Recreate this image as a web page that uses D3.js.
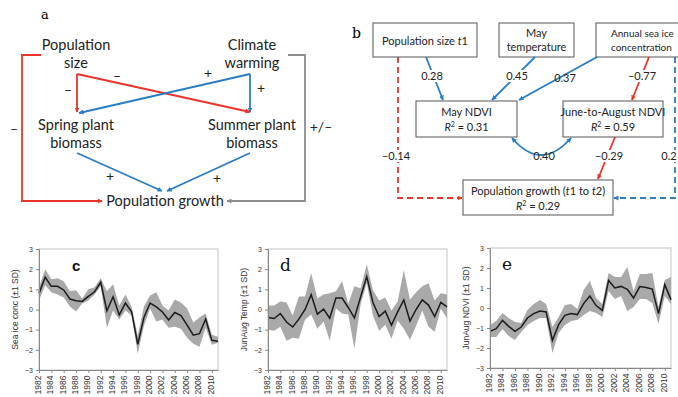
<!DOCTYPE html>
<meta charset="utf-8">
<head>
    <title>Population growth, climate and plants</title>
</head>
<style>
 body { margin: 0; background: #fff; }
 svg { display: block; }
 .diag { font-family: Lato, "Open Sans", sans-serif; fill: #222; }
 .axis text { font-family: "Liberation Sans", Arial, sans-serif; fill: #333; }
 .axis path, .axis line { stroke: #888; }
</style>
<body>
<div id="fig"></div>
<script src="https://d3js.org/d3.v7.min.js"></script>
<script>

 // ---- time series ----
 var years = d3.range(1982, 2012);

 var seaIce      = [0.8, 1.6, 1.15, 1.15, 0.97, 0.52, 0.43, 0.4, 0.65, 0.88, 1.35, -0.07, 0.63, -0.27, 0.32,
                    -0.12, -1.73, -0.4, 0.32, 0.13, -0.12, -0.52, -0.15, -0.3, -0.77, -1.27, -1.2, -0.47, -1.53, -1.57];
 var seaIceHi    = [1.1, 2.0, 1.5, 1.55, 1.4, 0.9, 0.95, 0.55, 1.0, 1.1, 1.55, 0.9, 1.25, 0.2, 0.75,
                    0.15, -1.3, 0.15, 0.7, 0.85, 0.2, -0.05, 0.5, 0.35, 0.05, -0.65, -0.4, -0.2, -1.25, -1.35];
 var seaIceLo    = [0.45, 1.2, 0.85, 0.75, 0.6, 0.15, -0.1, 0.3, 0.45, 0.75, 1.15, -0.9, -0.05, -0.5, -0.05,
                    -0.3, -2.2, -0.8, 0.05, -0.6, -0.5, -0.9, -0.85, -0.95, -1.4, -1.7, -1.85, -0.9, -1.75, -1.65];

 var junAugTemp   = [-0.4, -0.45, -0.2, -0.62, -0.87, -0.48, 0.0, 0.73, -0.23, 0.02, -0.43, 0.57, 0.57, 0.1, -0.42,
                     0.62, 1.63, 0.35, -0.35, -0.08, -0.78, -0.12, 0.47, -0.57, 0.0, 0.48, 0.22, -0.35, 0.35, 0.13];
 var junAugTempHi = [0.2, 0.2, 0.4, 0.35, -0.3, 0.65, 0.65, 1.8, 0.55, 0.75, 0.8, 0.9, 1.4, 0.3, 1.15,
                     1.05, 2.25, 0.95, 0.45, 0.6, -0.05, 0.4, 1.95, 0.5, 0.85, 1.15, 1.3, 0.45, 0.8, 0.75];
 var junAugTempLo = [-1.0, -1.05, -0.85, -1.55, -1.4, -1.45, -0.5, -0.25, -0.95, -0.6, -1.55, 0.05, -0.2, -0.25, -1.95,
                     0.25, 1.3, -0.3, -1.05, -0.75, -1.45, -0.55, -0.95, -1.5, -0.8, -0.05, -0.85, -1.1, 0.05, -0.45];

 var junAugNdvi   = [-1.17, -1.03, -0.62, -0.92, -1.17, -0.95, -0.5, -0.28, -0.15, -0.2, -1.62, -0.83, -0.37, -0.28, -0.33,
                     0.22, 0.6, 0.12, -0.12, 1.38, 1.0, 1.08, 0.93, 0.5, 1.07, 1.03, 0.95, -0.28, 1.17, 0.42];
 var junAugNdviHi = [-0.85, -0.65, -0.25, -0.5, -0.7, -0.75, -0.1, 0.2, 0.4, 0.2, -0.95, -0.45, 0.15, 0.2, -0.05,
                     0.9, 1.35, 0.5, 0.2, 1.75, 1.55, 1.55, 2.05, 0.85, 1.7, 1.7, 1.75, 0.05, 1.4, 1.55];
 var junAugNdviLo = [-1.45, -1.45, -1.05, -1.4, -1.6, -1.2, -0.85, -0.65, -0.5, -0.5, -2.25, -1.25, -0.85, -0.65, -0.6,
                     -0.35, -0.15, -0.25, -0.45, 0.85, 0.45, 0.6, -0.15, 0.05, 0.45, 0.45, 0.25, -0.8, 0.6, 0.2];

 var yTicks = [-3, -2, -1, 0, 1, 2, 3];
 var yearTicks = d3.range(1982, 2011, 2);

 // ---- diagram text and path coefficients ----
 var conceptNodes = [["Population", "size"], ["Climate", "warming"],
                     ["Spring plant", "biomass"], ["Summer plant", "biomass"], ["Population growth"]];
 var conceptSigns = ["\u2013", "\u2013", "+", "+", "+", "+", "\u2013", "+/\u2013"];
 var pathCoefs = ["0.28", "0.45", "0.37", "\u20130.77", "0.40", "\u20130.29", "\u20130.14", "0.2"];
 var r2 = ["0.31", "0.59", "0.29"];

 var W = 678, H = 397;
 var blue = "#2a7cc3", red = "#e8342a", grey = "#8d8d8d";

 var svg = d3.select("#fig").append("svg")
             .attr("width", W)
             .attr("height", H);

 var defs = svg.append("defs");
 [["blue", blue], ["red", red], ["grey", grey]].forEach(function (m) {
     defs.append("marker")
         .attr("id", "arr-" + m[0])
         .attr("viewBox", "0 0 10 10")
         .attr("refX", 9).attr("refY", 5)
         .attr("markerWidth", 5).attr("markerHeight", 5)
         .attr("markerUnits", "userSpaceOnUse")
         .attr("orient", "auto-start-reverse")
         .append("path")
         .attr("d", "M0,0 L10,5 L0,10 z")
         .attr("fill", m[1]);
 });

 function line(pts, color, mk, dash, sw) {
     var p = svg.append("path")
                .attr("d", d3.line()(pts))
                .attr("fill", "none")
                .attr("stroke", color)
                .attr("stroke-width", sw || 1.8);
     if (mk) p.attr("marker-end", "url(#arr-" + mk + ")");
     if (dash) p.attr("stroke-dasharray", dash);
     return p;
 }

 function txt(x, y, s, size, anchor, cls) {
     return svg.append("text")
               .attr("class", cls || "diag")
               .attr("x", x).attr("y", y)
               .attr("font-size", size)
               .attr("text-anchor", anchor || "middle")
               .text(s);
 }

 // ================= panel a =================
 svg.append("text").attr("x", 41).attr("y", 19)
    .attr("font-family", "DejaVu Serif, serif").attr("font-size", 13).text("a");

 var aCx = [76, 252, 76, 252, 165];
 var aCy = [50, 50, 130, 130, 206];
 conceptNodes.forEach(function (lines, i) {
     lines.forEach(function (s, j) {
         txt(aCx[i], aCy[i] + j * 18, s, 14.5);
     });
 });

 line([[77, 74], [77, 112]], red, "red");
 line([[77, 74], [250, 112]], red, "red");
 line([[250, 74], [250, 112]], blue, "blue");
 line([[250, 74], [79, 113]], blue, "blue");
 line([[77, 153], [162, 191]], blue, "blue");
 line([[250, 153], [167, 191]], blue, "blue");
 line([[41, 55], [22, 55], [22, 201], [102, 201]], red, "red");
 line([[288, 55], [305, 55], [305, 201], [227, 201]], grey, "grey");

 var signPos = [[68, 95], [117, 81], [208, 78], [261, 93], [110, 181], [217, 183], [14, 134], [321, 132]];
 conceptSigns.forEach(function (s, i) {
     txt(signPos[i][0], signPos[i][1], s, 14);
 });

 // ================= panel b =================
 svg.append("text").attr("x", 352).attr("y", 38)
    .attr("font-family", "DejaVu Serif, serif").attr("font-size", 14).text("b");

 function box(x0, y0, x1, y1) {
     svg.append("rect").attr("x", x0).attr("y", y0)
        .attr("width", x1 - x0).attr("height", y1 - y0)
        .attr("fill", "#fff").attr("stroke", "#555").attr("stroke-width", 1);
 }
 function r2Line(x, y, v) {
     var t = txt(x, y, "", 11);
     t.append("tspan").attr("font-style", "italic").text("R");
     t.append("tspan").attr("dy", -4).attr("font-size", 7).text("2");
     t.append("tspan").attr("dy", 4).text(" = " + v);
 }

 // dashed direct paths (behind boxes)
 line([[398, 57], [398, 198], [462, 198]], red, "red", "6,4");
 line([[675, 57], [675, 198], [614, 198]], blue, "blue", "6,4");

 box(373, 23, 477, 57);
 var t1 = txt(425, 45, "Population size ", 11);
 t1.append("tspan").attr("font-style", "italic").text("t");
 t1.append("tspan").text("1");

 box(499, 23, 574, 57);
 txt(536.5, 37, "May", 11);
 txt(536.5, 51, "temperature", 11);

 // this box runs off the right edge in the source; keep its text inside the page
 box(596, 23, 730, 57);
 txt(611, 37, "Annual sea ice", 10, "start");
 txt(611, 51, "concentration", 10, "start");

 box(416, 101, 517, 137);
 txt(466.5, 116, "May NDVI", 11);
 r2Line(466.5, 131, r2[0]);

 box(563, 101, 663, 137);
 txt(613, 116, "June-to-August NDVI", 11);
 r2Line(613, 131, r2[1]);

 box(463, 180, 613, 215);
 var pg = txt(538, 195, "Population growth (", 11);
 pg.append("tspan").attr("font-style", "italic").text("t");
 pg.append("tspan").text("1 to ");
 pg.append("tspan").attr("font-style", "italic").text("t");
 pg.append("tspan").text("2)");
 r2Line(538, 210, r2[2]);

 line([[426, 57], [443, 100]], blue, "blue");
 line([[535, 57], [492, 100]], blue, "blue");
 line([[597, 57], [519, 100]], blue, "blue");
 line([[649, 57], [632, 100]], red, "red");
 line([[615, 137], [598, 179]], red, "red");
 svg.append("path")
    .attr("d", "M512,138 Q541,172 571,138")
    .attr("fill", "none").attr("stroke", blue).attr("stroke-width", 1.8)
    .attr("marker-start", "url(#arr-blue)")
    .attr("marker-end", "url(#arr-blue)");

 var coefPos = [[432, 80], [517, 80], [565, 82], [642, 80], [544, 160], [609, 160], [396, 160], [669, 160]];
 pathCoefs.forEach(function (c, i) {
     var bg = svg.append("rect")
                 .attr("x", coefPos[i][0] - 12).attr("y", coefPos[i][1] - 10)
                 .attr("width", 24).attr("height", 12).attr("fill", "#fff");
     if (i === 4 || i === 2) bg.attr("width", 0);
     if (i === 7) bg.attr("width", 20);
     txt(coefPos[i][0], coefPos[i][1], c, 11);
 });

 // ================= panels c, d, e =================
 function tsPanel(o) {
     var x = d3.scaleLinear().domain([1982, 2011]).range([o.x0, o.x1]);
     var y = d3.scaleLinear().domain([-3, 3]).range([o.y1, o.y0]);
     var g = svg.append("g");

     g.append("rect")
      .attr("x", o.x0).attr("y", o.y0)
      .attr("width", o.x1 - o.x0).attr("height", o.y1 - o.y0)
      .attr("fill", "none").attr("stroke", "#c4c4c4");

     var rows = years.map(function (yr, i) {
         return { year: yr, v: o.values[i], hi: o.upper[i], lo: o.lower[i] };
     });

     g.append("path")
      .datum(rows)
      .attr("fill", "#a9a9a9")
      .attr("d", d3.area()
                  .x(function (d) { return x(d.year); })
                  .y0(function (d) { return y(d.lo); })
                  .y1(function (d) { return y(d.hi); }));

     g.append("path")
      .datum(rows)
      .attr("fill", "none")
      .attr("stroke", "#1b1b1b")
      .attr("stroke-width", 1.5)
      .attr("d", d3.line()
                  .x(function (d) { return x(d.year); })
                  .y(function (d) { return y(d.v); }));

     var ya = g.append("g").attr("class", "axis")
               .attr("transform", "translate(" + o.x0 + ",0)")
               .call(d3.axisLeft(y).tickValues(yTicks).tickFormat(d3.format("d"))
                       .tickSize(3).tickPadding(3));
     ya.selectAll("text").attr("font-size", 7);

     var xa = g.append("g").attr("class", "axis")
               .attr("transform", "translate(0," + o.y1 + ")")
               .call(d3.axisBottom(x).tickValues(yearTicks).tickFormat(d3.format("d"))
                       .tickSize(3).tickSizeOuter(0));
     xa.selectAll("text")
       .attr("font-size", 8.5)
       .attr("transform", "rotate(-90)")
       .attr("text-anchor", "end")
       .attr("dx", "-0.3em")
       .attr("dy", "-0.1em")
       .attr("y", 0).attr("x", -3)
       .style("dominant-baseline", "middle");

     g.append("text")
      .attr("class", "axis")
      .attr("transform", "translate(" + o.labelX + "," + ((o.y0 + o.y1) / 2) + ") rotate(-90)")
      .attr("text-anchor", "middle")
      .attr("font-size", 8.5)
      .attr("font-family", "Liberation Sans, Arial, sans-serif")
      .attr("fill", "#333")
      .text(o.label);

     g.append("text")
      .attr("x", o.letterX).attr("y", o.y0 + 22)
      .attr("font-family", o.letterFont)
      .attr("font-weight", o.letterWeight || "normal")
      .attr("font-size", o.letterSize)
      .attr("fill", "#111")
      .text(o.letter);
 }

 tsPanel({ x0: 39, x1: 218, y0: 249, y1: 370, values: seaIce, upper: seaIceHi, lower: seaIceLo,
           label: "Sea ice conc (\u00b11 SD)", labelX: 18, letter: "c", letterX: 72,
           letterFont: "Liberation Sans, Arial, sans-serif", letterWeight: "bold", letterSize: 15 });
 tsPanel({ x0: 268, x1: 447, y0: 249, y1: 370, values: junAugTemp, upper: junAugTempHi, lower: junAugTempLo,
           label: "JunAug Temp (\u00b11 SD)", labelX: 247, letter: "d", letterX: 280,
           letterFont: "DejaVu Serif, serif", letterSize: 17 });
 tsPanel({ x0: 490, x1: 671, y0: 248, y1: 368, values: junAugNdvi, upper: junAugNdviHi, lower: junAugNdviLo,
           label: "JunAug NDVI (\u00b11 SD)", labelX: 469, letter: "e", letterX: 502,
           letterFont: "DejaVu Serif, serif", letterSize: 17 });

</script>
</body>
